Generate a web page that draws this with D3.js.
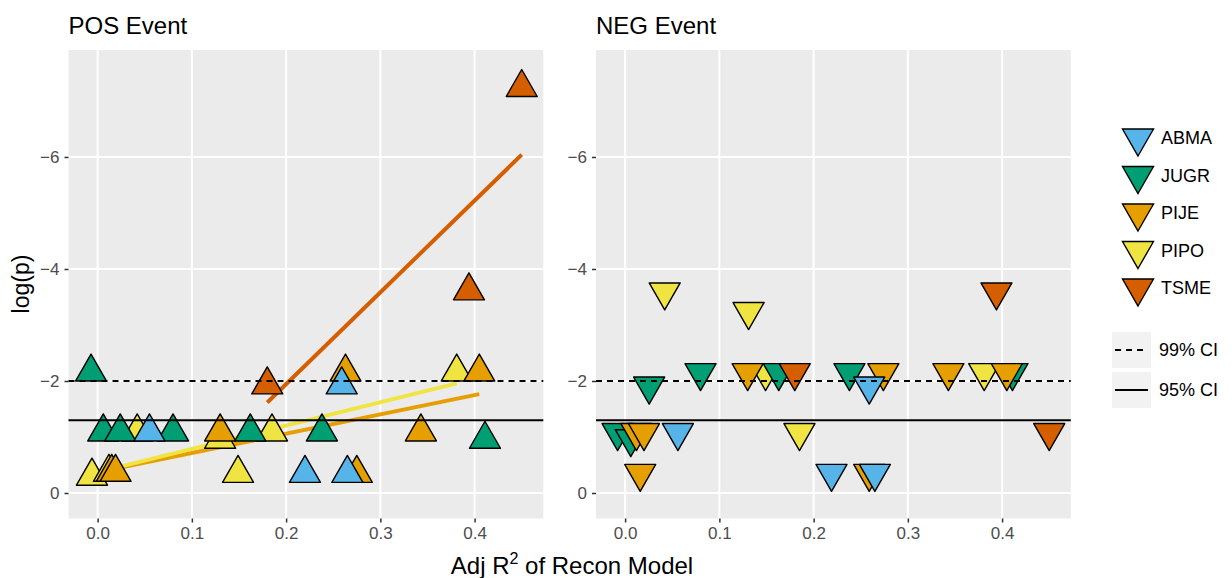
<!DOCTYPE html>
<html>
<head>
<meta charset="utf-8">
<script src="https://cdn.jsdelivr.net/npm/d3@7"></script>
<style>
  body { margin: 0; background: #fff; }
  text { font-family: "Liberation Sans", Arial, Helvetica, sans-serif; }
</style>
</head>
<body>
<svg id="chart" width="1232" height="578"></svg>
<script>
// species and colours (legend order)
const species = ["ABMA", "JUGR", "PIJE", "PIPO", "TSME"]
const speciesColors = ["#56B4E9", "#009E73", "#E69F00", "#F0E442", "#D55E00"]
// order in which the points were drawn (later = on top)
const drawOrder = ["PIPO", "JUGR", "PIJE", "ABMA", "TSME"]

const xTicks = [0, 0.1, 0.2, 0.3, 0.4]
const yTicks = [0, -2, -4, -6]
const ciLevels = [{label: "99% CI", value: -2, dash: "6,5"}, {label: "95% CI", value: -1.301, dash: null}]

// POS event: [adj R2, log(p)]
const posABMA = [[0.055, -1.09], [0.259, -1.93], [0.220, -0.35], [0.265, -0.35]]
const posJUGR = [[-0.007, -2.16], [0.006, -1.09], [0.024, -1.09], [0.080, -1.09], [0.162, -1.09], [0.238, -1.09], [0.411, -0.96]]
const posPIJE = [[0.015, -0.37], [0.019, -0.37], [0.130, -1.09], [0.263, -2.16], [0.275, -0.35], [0.343, -1.09], [0.405, -2.16]]
const posPIPO = [[-0.006, -0.30], [0.012, -0.37], [0.042, -1.09], [0.130, -0.96], [0.149, -0.35], [0.185, -1.09], [0.381, -2.16]]
const posTSME = [[0.180, -1.93], [0.394, -3.61], [0.450, -7.24]]
// species with a fitted lm line in the POS panel
const posFitted = ["PIJE", "PIPO", "TSME"]

// NEG event
const negABMA = [[0.056, -1.08], [0.219, -0.35], [0.259, -1.91], [0.265, -0.35]]
const negJUGR = [[-0.008, -1.08], [0.006, -0.97], [0.0255, -1.91], [0.080, -2.15], [0.163, -2.15], [0.238, -2.15], [0.411, -2.15]]
const negPIJE = [[0.012, -1.08], [0.020, -1.08], [0.016, -0.35], [0.130, -2.15], [0.259, -0.35], [0.274, -2.15], [0.343, -2.15], [0.405, -2.15]]
const negPIPO = [[0.042, -3.59], [0.131, -3.24], [0.149, -2.15], [0.185, -1.08], [0.381, -2.15]]
const negTSME = [[0.180, -2.15], [0.394, -3.59], [0.450, -1.08]]

const panels = [
  {title: "POS Event", up: true, left: 68.5,
   data: {ABMA: posABMA, JUGR: posJUGR, PIJE: posPIJE, PIPO: posPIPO, TSME: posTSME}, fits: posFitted},
  {title: "NEG Event", up: false, left: 596,
   data: {ABMA: negABMA, JUGR: negJUGR, PIJE: negPIJE, PIPO: negPIPO, TSME: negTSME}, fits: []}
]

const svg = d3.select("#chart")
const color = d3.scaleOrdinal().domain(species).range(speciesColors)

const panelW = 474.8, panelTop = 50, panelBottom = 518.5
const triW = 31, triH = 27

// x limits like ggplot: data range + 5%
let allX = []
panels.forEach(p => species.forEach(s => p.data[s].forEach(d => allX.push(d[0]))))
let xExt = d3.extent(allX)
let xPad = (xExt[1] - xExt[0]) * 0.05
const xDomain = [xExt[0] - xPad, xExt[1] + xPad]

const y = d3.scaleLinear().domain([0.455, -7.91]).range([panelBottom, panelTop])

function triangle (up) {
  let s = up ? 1 : -1
  return "M0," + (-s * 2 * triH / 3) + "L" + (triW / 2) + "," + (s * triH / 3) +
    "L" + (-triW / 2) + "," + (s * triH / 3) + "Z"
}

function lmFit (pts) {
  let mx = d3.mean(pts, d => d[0]), my = d3.mean(pts, d => d[1])
  let sxy = d3.sum(pts, d => (d[0] - mx) * (d[1] - my))
  let sxx = d3.sum(pts, d => (d[0] - mx) * (d[0] - mx))
  let b = sxy / sxx
  let ext = d3.extent(pts, d => d[0])
  return ext.map(xv => [xv, my + b * (xv - mx)])
}

panels.forEach(p => {
  let x = d3.scaleLinear().domain(xDomain).range([p.left, p.left + panelW])
  let g = svg.append("g")

  g.append("rect").attr("x", p.left).attr("y", panelTop)
    .attr("width", panelW).attr("height", panelBottom - panelTop).attr("fill", "#ebebeb")

  // grid
  g.selectAll("line.vgrid").data(xTicks).enter().append("line")
    .attr("x1", d => x(d)).attr("x2", d => x(d)).attr("y1", panelTop).attr("y2", panelBottom)
    .attr("stroke", "#fff").attr("stroke-width", 2)
  g.selectAll("line.hgrid").data(yTicks).enter().append("line")
    .attr("y1", d => y(d)).attr("y2", d => y(d)).attr("x1", p.left).attr("x2", p.left + panelW)
    .attr("stroke", "#fff").attr("stroke-width", 2)

  // axes
  let xAxis = g.append("g").attr("transform", "translate(0," + panelBottom + ")")
    .call(d3.axisBottom(x).tickValues(xTicks).tickFormat(d3.format(".1f")).tickSize(4).tickPadding(4))
  let yAxis = g.append("g").attr("transform", "translate(" + p.left + ",0)")
    .call(d3.axisLeft(y).tickValues(yTicks).tickFormat(d => d < 0 ? "\u2212" + Math.abs(d) : d).tickSize(4).tickPadding(5))
  ;[xAxis, yAxis].forEach(a => {
    a.select(".domain").remove()
    a.selectAll(".tick line").attr("stroke", "#333").attr("stroke-width", 1.5)
    a.selectAll(".tick text").attr("fill", "#4d4d4d").style("font-size", "17px")
      .style("font-family", "'Liberation Sans', Arial, sans-serif")
  })

  // fitted lines
  p.fits.forEach(s => {
    let line = lmFit(p.data[s])
    g.append("path").datum(line)
      .attr("d", d3.line().x(d => x(d[0])).y(d => y(d[1])))
      .attr("stroke", color(s)).attr("stroke-width", 4).attr("fill", "none")
  })

  // points
  drawOrder.forEach(s => {
    g.selectAll(null).data(p.data[s]).enter().append("path")
      .attr("d", triangle(p.up))
      .attr("transform", d => "translate(" + x(d[0]) + "," + y(d[1]) + ")")
      .attr("fill", color(s)).attr("stroke", "#000").attr("stroke-width", 1.4)
      .attr("stroke-linejoin", "round")
  })

  // CI lines
  g.selectAll("line.ci").data(ciLevels).enter().append("line")
    .attr("x1", p.left).attr("x2", p.left + panelW)
    .attr("y1", d => y(d.value)).attr("y2", d => y(d.value))
    .attr("stroke", "#000").attr("stroke-width", 2)
    .attr("stroke-dasharray", d => d.dash)

  g.append("text").attr("x", p.left).attr("y", 34)
    .style("font-size", "24px").attr("fill", "#000").text(p.title)
})

// axis titles
let xt = svg.append("text").attr("x", 572).attr("y", 574).attr("text-anchor", "middle")
  .style("font-size", "24px")
xt.append("tspan").text("Adj R")
xt.append("tspan").attr("dy", -10).style("font-size", "16px").text("2")
xt.append("tspan").attr("dy", 10).text(" of Recon Model")

svg.append("text").attr("transform", "translate(29,284) rotate(-90)")
  .attr("text-anchor", "middle").style("font-size", "23px").text("log(p)")

// legend: species
let legY = d3.scalePoint().domain(species).range([138, 288])
let leg = svg.append("g")
species.forEach(s => {
  leg.append("path").attr("d", triangle(false))
    .attr("transform", "translate(1138," + legY(s) + ")")
    .attr("fill", color(s)).attr("stroke", "#000").attr("stroke-width", 1.4)
  leg.append("text").attr("x", 1161).attr("y", legY(s)).attr("dy", "0.36em")
    .style("font-size", "18px").text(s)
})

// legend: CI line types
let ciY = d3.scalePoint().domain(ciLevels.map(d => d.label)).range([350, 390])
ciLevels.forEach(c => {
  let cy = ciY(c.label)
  leg.append("rect").attr("x", 1112).attr("y", cy - 18).attr("width", 39).attr("height", 36)
    .attr("fill", "#f2f2f2")
  leg.append("line").attr("x1", 1115).attr("x2", 1148).attr("y1", cy).attr("y2", cy)
    .attr("stroke", "#000").attr("stroke-width", 2).attr("stroke-dasharray", c.dash)
  leg.append("text").attr("x", 1159).attr("y", cy).attr("dy", "0.36em")
    .style("font-size", "18px").text(c.label)
})
</script>
</body>
</html>
